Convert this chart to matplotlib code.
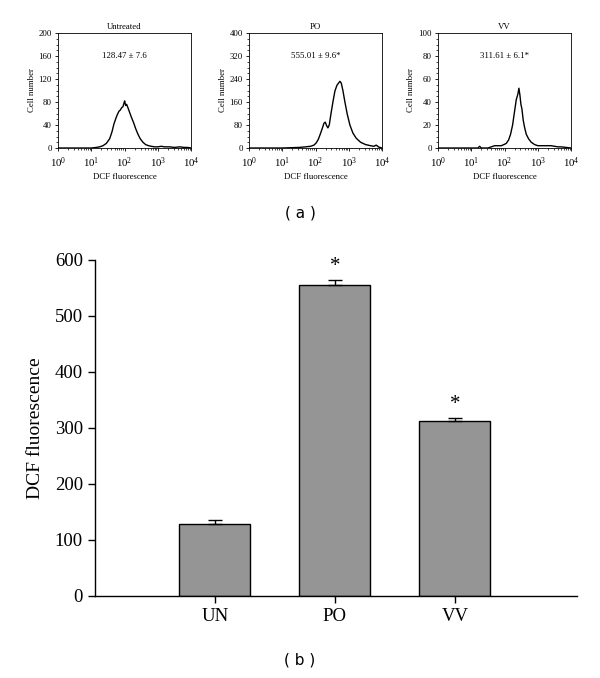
import matplotlib
matplotlib.use("Agg")
import matplotlib.pyplot as plt
import numpy as np
from matplotlib.ticker import LogLocator, NullFormatter, MultipleLocator, AutoMinorLocator

plt.rcParams['font.family'] = ['Liberation Serif', 'DejaVu Serif']
plt.rcParams['mathtext.fontset'] = 'stix'

# ---------------- data ----------------
panel_titles = ["Untreated", "PO", "VV"]
panel_notes = ["128.47 \u00b1 7.6", "555.01 \u00b1 9.6*", "311.61 \u00b1 6.1*"]
panel_ymax = [200, 400, 100]
panel_ystep = [40, 80, 20]

# histogram traces: log10(DCF fluorescence) and cell counts
untreated_logx = [0.0, 1.0, 1.15, 1.25, 1.35, 1.45, 1.55, 1.62, 1.68, 1.74, 1.78, 1.83, 1.87, 1.91, 1.95, 1.98, 2.0, 2.03, 2.06, 2.1, 2.15, 2.2, 2.27, 2.33, 2.4, 2.47, 2.55, 2.63, 2.72, 2.8, 2.9, 3.0, 3.1, 3.2, 3.35, 3.5, 3.65, 3.8, 3.9, 4.0]
untreated_cnt = [0, 0, 1, 2, 4, 8, 16, 28, 42, 52, 58, 64, 66, 70, 72, 78, 82, 74, 76, 70, 62, 54, 44, 34, 24, 16, 10, 6, 4, 3, 2, 2, 3, 2, 2, 1, 2, 1, 1, 0]

po_logx = [0.0, 1.0, 1.5, 1.7, 1.85, 1.95, 2.02, 2.08, 2.14, 2.2, 2.25, 2.29, 2.33, 2.37, 2.41, 2.46, 2.52, 2.58, 2.64, 2.69, 2.73, 2.77, 2.82, 2.88, 2.95, 3.03, 3.12, 3.22, 3.35, 3.5, 3.65, 3.75, 3.82, 3.9, 4.0]
po_cnt = [0, 0, 2, 4, 6, 10, 18, 30, 48, 68, 86, 90, 78, 70, 80, 118, 160, 198, 218, 226, 232, 226, 200, 160, 118, 80, 52, 34, 20, 12, 8, 6, 10, 3, 0]

vv_logx = [0.0, 1.0, 1.2, 1.25, 1.3, 1.5, 1.6, 1.7, 1.8, 1.9, 1.98, 2.05, 2.12, 2.18, 2.24, 2.3, 2.35, 2.4, 2.43, 2.46, 2.49, 2.52, 2.56, 2.6, 2.65, 2.72, 2.8, 2.9, 3.0, 3.2, 3.4, 3.6, 3.7, 4.0]
vv_cnt = [0, 0, 0, 1.5, 0, 0, 1, 2, 2, 2, 3, 4, 7, 12, 20, 32, 42, 47, 52, 46, 38, 34, 24, 18, 12, 8, 5, 3, 2, 2, 2, 1, 1, 0]

hist_logx = [untreated_logx, po_logx, vv_logx]
hist_cnt = [untreated_cnt, po_cnt, vv_cnt]

groups = ["UN", "PO", "VV"]
means = [128.47, 555.01, 311.61]
errs = [7.6, 9.6, 6.1]
signif = ["", "*", "*"]

# ---------------- figure ----------------
fig = plt.figure(figsize=(6.0, 6.78), dpi=100)

lefts = [0.0967, 0.415, 0.73]
for i in range(3):
    ax = fig.add_axes([lefts[i], 0.7817, 0.222, 0.1696])
    x = 10 ** np.array(hist_logx[i])
    ax.plot(x, hist_cnt[i], color='black', lw=1.0)
    ax.set_xscale('log')
    ax.set_xlim(1, 1e4)
    ax.set_ylim(0, panel_ymax[i])
    ax.yaxis.set_major_locator(MultipleLocator(panel_ystep[i]))
    ax.yaxis.set_minor_locator(AutoMinorLocator(4))
    ax.xaxis.set_major_locator(LogLocator(base=10, numticks=10))
    ax.xaxis.set_minor_locator(LogLocator(base=10, subs=np.arange(2, 10), numticks=20))
    ax.xaxis.set_minor_formatter(NullFormatter())
    ax.tick_params(axis='y', labelsize=6.3, length=2.5, width=0.6, pad=2)
    ax.tick_params(axis='x', labelsize=7.8, length=2.5, width=0.6, pad=3)
    ax.tick_params(which='minor', length=1.5, width=0.5)
    for s in ax.spines.values():
        s.set_linewidth(0.6)
    ax.set_title(panel_titles[i], fontsize=6.3, pad=3)
    ax.set_xlabel("DCF fluorescence", fontsize=6.3, labelpad=2)
    ax.set_ylabel("Cell number", fontsize=6.3, labelpad=2)
    ax.text(0.5, 0.8, panel_notes[i], transform=ax.transAxes, ha='center',
            va='center', fontsize=6.3)

fig.text(0.5, 1 - 213 / 678, "( a )", ha='center', va='center', fontsize=11,
         family=['DejaVu Sans'])

# bar chart
bx = fig.add_axes([0.158, 0.121, 0.804, 0.4956])
pos = np.arange(1, len(groups) + 1)
bx.bar(pos, means, width=0.59, color='#959595', edgecolor='black', linewidth=1.0, zorder=2)
bx.errorbar(pos, means, yerr=[np.zeros(len(errs)), errs], fmt='none', ecolor='black',
            elinewidth=1.0, capsize=5, capthick=1.0, zorder=3)
for p, m, e, s in zip(pos, means, errs, signif):
    if s:
        bx.text(p, m + e + 7, s, ha='center', va='bottom', fontsize=15)
bx.set_xlim(0, 4.02)
bx.set_ylim(0, 600)
bx.set_xticks(pos)
bx.set_xticklabels(groups)
bx.yaxis.set_major_locator(MultipleLocator(100))
bx.spines['top'].set_visible(False)
bx.spines['right'].set_visible(False)
bx.spines['left'].set_linewidth(1.0)
bx.spines['bottom'].set_linewidth(1.0)
bx.tick_params(labelsize=13.5, length=5, width=1.0)
bx.set_ylabel("DCF fluorescence", fontsize=14, labelpad=8)

fig.text(0.5, 1 - 660 / 678, "( b )", ha='center', va='center', fontsize=11,
         family=['DejaVu Sans'])

fig.savefig("out.png", dpi=100)
